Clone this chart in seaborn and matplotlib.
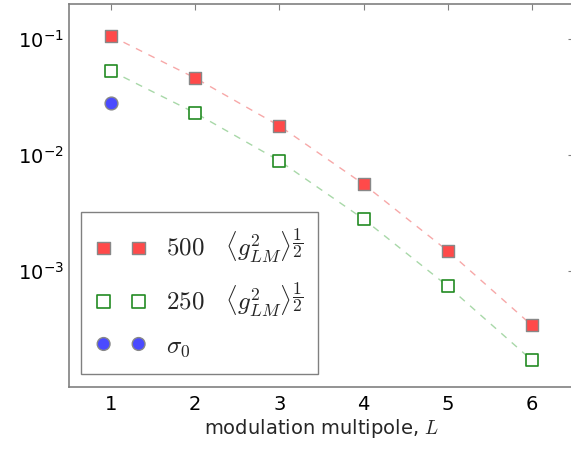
import numpy as np
import pandas as pd
import matplotlib
matplotlib.use("Agg")
import matplotlib.pyplot as plt
import seaborn as sns

L = [1, 2, 3, 4, 5, 6]
g500 = [0.106, 0.046, 0.0178, 0.0056, 0.00149, 0.00034]
g250 = [0.053, 0.023, 0.0089, 0.0028, 0.00074, 0.00017]
sigma_L = [1]
sigma0 = [0.028]

sns.set_style("white")
plt.rcParams["font.family"] = ["DejaVu Sans"]
plt.rcParams["mathtext.fontset"] = "cm"

df500 = pd.DataFrame({"L": L, "g": g500})
df250 = pd.DataFrame({"L": L, "g": g250})
dfs = pd.DataFrame({"L": sigma_L, "g": sigma0})

fig = plt.figure(figsize=(5.71, 4.49), dpi=100)
ax = fig.add_axes([69 / 571, 62 / 449, 505 / 571, 383 / 449])

sns.lineplot(data=df500, x="L", y="g", ax=ax, color="#f7a8a8", lw=1.0,
             dashes=False, linestyle=(0, (5, 5)), legend=False)
sns.lineplot(data=df250, x="L", y="g", ax=ax, color="#a8d8a8", lw=1.0,
             dashes=False, linestyle=(0, (5, 5)), legend=False)

sns.scatterplot(data=df500, x="L", y="g", ax=ax, marker="s", s=85,
                color="#ff4a4a", edgecolor="#888888", linewidth=1.0,
                label=r"$500\ \ \ \langle g^2_{LM}\rangle^{\dfrac{1}{2}}$", zorder=3)
sns.scatterplot(data=df250, x="L", y="g", ax=ax, marker="s", s=85,
                facecolor="white", edgecolor="#228b22", linewidth=1.2,
                label=r"$250\ \ \ \langle g^2_{LM}\rangle^{\dfrac{1}{2}}$", zorder=3)
sns.scatterplot(data=dfs, x="L", y="g", ax=ax, marker="o", s=85,
                color="#4a4aff", edgecolor="#888888", linewidth=1.0,
                label=r"$\sigma_0$", zorder=3)

ax.set_yscale("log")
ax.set_xlim(0.5, 6.5)
ax.set_ylim(1e-4, 0.2)
ax.set_xticks(L)
ax.set_yticks([1e-3, 1e-2, 1e-1])
ax.set_yticklabels([r"$\mathdefault{10^{-3}}$", r"$\mathdefault{10^{-2}}$",
                    r"$\mathdefault{10^{-1}}$"])
ax.tick_params(axis="both", which="both", direction="in", top=True, right=True,
               colors="#808080", labelcolor="black", labelsize=14)
ax.tick_params(which="major", length=4)
ax.tick_params(which="minor", length=2.2)
ax.tick_params(axis="x", pad=6)
ax.set_xlabel(r"modulation multipole, $L$", fontsize=14, labelpad=2)
ax.set_ylabel("")
for sp in ax.spines.values():
    sp.set_color("#808080")
    sp.set_linewidth(1.2)

leg = ax.legend(loc="lower left", bbox_to_anchor=(0.024, 0.034), borderaxespad=0,
                scatterpoints=2, scatteryoffsets=[0.5], fontsize=18, frameon=True,
                fancybox=False, edgecolor="#808080", framealpha=1, handlelength=2.0,
                handletextpad=0.8, labelspacing=0.6, borderpad=0.6)
leg.get_frame().set_linewidth(1.0)

fig.savefig("out.png", dpi=100)
